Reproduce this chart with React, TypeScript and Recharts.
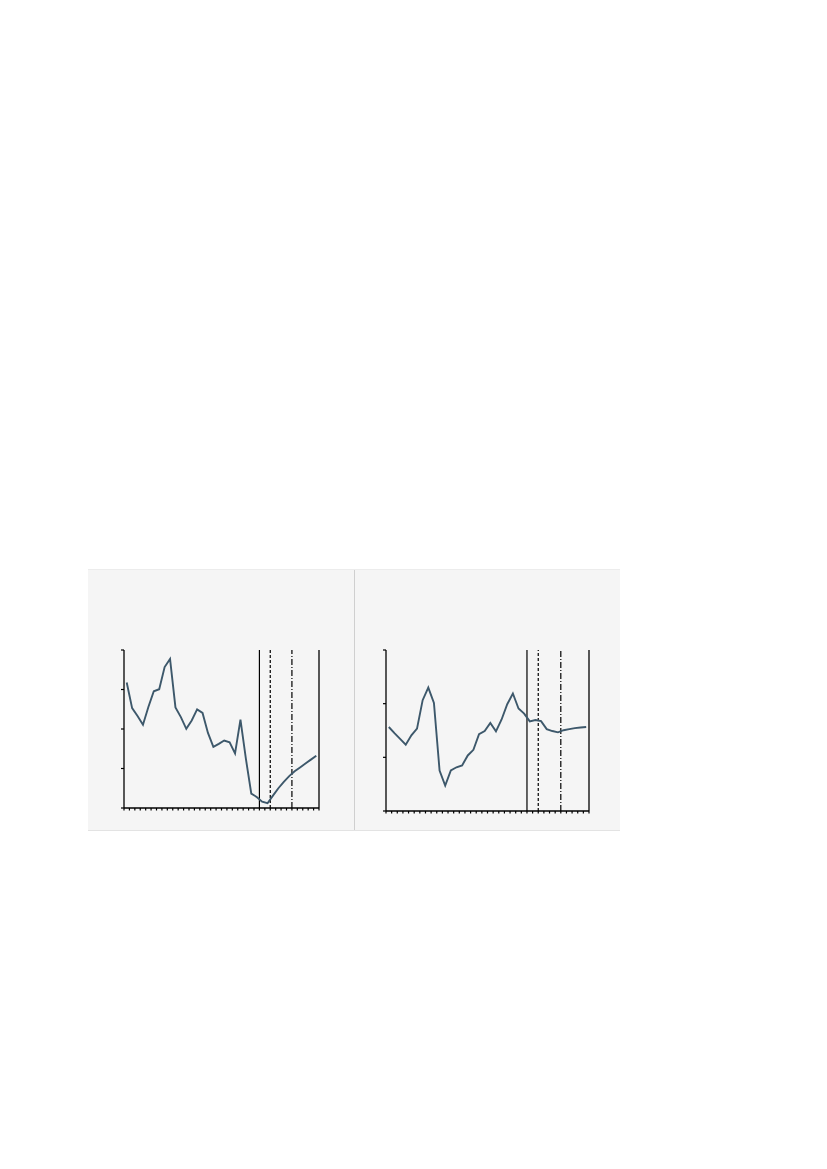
import { LineChart, Line, XAxis, YAxis, ReferenceLine } from 'recharts'

// ── Data ─────────────────────────────────────────────────────────────────────

// 36 periods, one band each; the series sits in the middle of its band
const LEFT_SERIES = [
  79.4, 63.2, 58.2, 52.7, 63.9, 73.9, 75.2, 89.2, 94.3, 63.7, 57.5, 50.1,
  55.4, 62.4, 60.2, 47.5, 38.7, 40.6, 42.7, 41.6, 34.6, 55.9, 31.2, 9.1,
  7.0, 4.0, 3.0, 7.8, 12.5, 16.6, 20.2, 23.2, 25.7, 28.2, 30.6, 33.1,
]

const RIGHT_SERIES = [
  31.3, 29.0, 26.9, 24.7, 28.2, 30.7, 41.3, 46.0, 40.3, 15.1, 9.5, 15.1,
  16.3, 17.0, 20.7, 22.8, 28.6, 29.8, 32.8, 29.7, 34.1, 39.8, 43.8, 38.2,
  36.3, 33.4, 33.9, 33.5, 30.5, 29.8, 29.3, 30.1, 30.5, 30.9, 31.1, 31.3,
]

const X_TICKS = [
  0, 1, 2, 3, 4, 5, 6, 7, 8, 9, 10, 11, 12, 13, 14, 15, 16, 17, 18,
  19, 20, 21, 22, 23, 24, 25, 26, 27, 28, 29, 30, 31, 32, 33, 34, 35, 36,
]
const LEFT_Y_TICKS = [0, 25, 50, 75, 100]
const RIGHT_Y_TICKS = [0, 20, 40, 60]

// period breaks: solid, dashed, dash-dot
const PERIOD_BREAKS = [25, 27, 31]

// ── Styles ────────────────────────────────────────────────────────────────────

const LINE_COLOR = '#3d586b'
const AXIS_COLOR = '#000000'
const BREAK_DASHES = [undefined, '3 2', '6 2 1 2']

const toRows = (values: number[]) => values.map((v, i) => ({ x: i + 0.5, v }))

// tick marks without labels
const NoLabel = () => <g />

interface PanelProps {
  values: number[]
  yTicks: number[]
  width: number
  height: number
  margin: { top: number; right: number; bottom: number; left: number }
}

function Panel({ values, yTicks, width, height, margin }: PanelProps) {
  const yDomain: [number, number] = [yTicks[0], yTicks[yTicks.length - 1]]
  const axisLine = { stroke: AXIS_COLOR, strokeWidth: 1.3 }
  const tickLine = { stroke: AXIS_COLOR, strokeWidth: 1.2 }
  return (
    <LineChart width={width} height={height} data={toRows(values)} margin={margin}>
      <XAxis
        dataKey="x"
        type="number"
        domain={[0, 36]}
        ticks={X_TICKS}
        interval={0}
        tick={NoLabel}
        tickSize={2.5}
        height={3}
        axisLine={axisLine}
        tickLine={tickLine}
      />
      <YAxis
        yAxisId="l"
        type="number"
        domain={yDomain}
        ticks={yTicks}
        interval={0}
        tick={NoLabel}
        tickSize={3}
        width={3}
        axisLine={axisLine}
        tickLine={tickLine}
      />
      <YAxis
        yAxisId="r"
        orientation="right"
        type="number"
        domain={yDomain}
        ticks={yTicks}
        interval={0}
        tick={NoLabel}
        tickSize={3}
        width={3}
        axisLine={axisLine}
        tickLine={tickLine}
      />
      {PERIOD_BREAKS.map((x, i) => (
        <ReferenceLine
          key={x}
          x={x}
          yAxisId="l"
          stroke={AXIS_COLOR}
          strokeWidth={1.2}
          strokeDasharray={BREAK_DASHES[i]}
        />
      ))}
      <Line
        yAxisId="l"
        type="linear"
        dataKey="v"
        stroke={LINE_COLOR}
        strokeWidth={1.9}
        dot={false}
        activeDot={false}
        isAnimationActive={false}
      />
    </LineChart>
  )
}

export default function App() {
  return (
    <div
      style={{
        position: 'absolute',
        left: 88,
        top: 569,
        width: 532,
        height: 260,
        background: '#f5f5f5',
        borderTop: '1px solid #ececec',
        borderBottom: '1px solid #e3e3e3',
        display: 'flex',
      }}
    >
      <div style={{ width: 266, height: 260 }}>
        <Panel
          values={LEFT_SERIES}
          yTicks={LEFT_Y_TICKS}
          width={266}
          height={260}
          margin={{ top: 80, right: 32, bottom: 19, left: 33 }}
        />
      </div>
      <div style={{ width: 265, height: 260, borderLeft: '1px solid #cfcfcf' }}>
        <Panel
          values={RIGHT_SERIES}
          yTicks={RIGHT_Y_TICKS}
          width={265}
          height={260}
          margin={{ top: 80, right: 28, bottom: 16, left: 28 }}
        />
      </div>
    </div>
  )
}
